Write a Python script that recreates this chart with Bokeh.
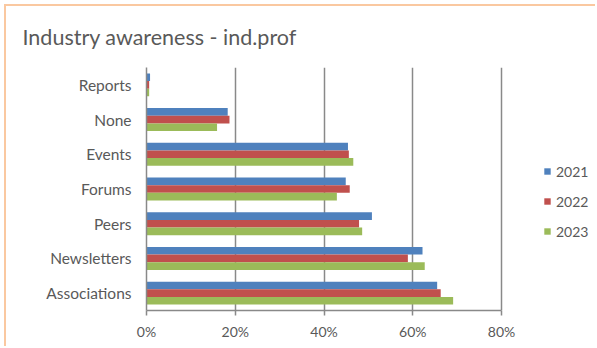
from bokeh.plotting import figure
from bokeh.models import (ColumnDataSource, FactorRange, Range1d, Legend, LegendItem,
                          PrintfTickFormatter, FixedTicker)
from bokeh.transform import dodge
from bokeh.embed import file_html
from bokeh.resources import INLINE

categories = ["Reports", "None", "Events", "Forums", "Peers", "Newsletters", "Associations"]
series_names = ["2021", "2022", "2023"]
v2021 = [0.8, 18.3, 45.4, 44.9, 50.8, 62.2, 65.5]
v2022 = [0.6, 18.7, 45.6, 45.8, 47.9, 58.9, 66.3]
v2023 = [0.6, 15.9, 46.6, 42.9, 48.6, 62.7, 69.1]
x_ticks = [0, 20, 40, 60, 80]

colors = ["#4F81BD", "#C0504D", "#9BBB59"]
txt = "#595959"
grid = "#898989"
FONT = "Lato"

source = ColumnDataSource(data=dict(cat=categories, v2021=v2021, v2022=v2022, v2023=v2023))

W, H = 591, 342
left_px, right_px = 140, 495          # frame span for the 0..80 axis
x_end = x_ticks[-1] * (W - left_px) / (right_px - left_px)

p = figure(width=W, height=H, output_backend="svg", toolbar_location=None,
           y_range=FactorRange(factors=list(reversed(categories))),
           x_range=Range1d(0, x_end),
           min_border_left=left_px, min_border_right=0, min_border_top=61, min_border_bottom=38)
p.styles = {"margin-left": "4px", "margin-top": "4px",
            "border-left": "2px solid #FAC8A0", "border-top": "2px solid #FAC8A0"}

p.title.text = "Industry awareness - ind.prof"
p.title.text_font = FONT
p.title.text_font_size = "21.5px"
p.title.text_font_style = "normal"
p.title.text_color = txt
p.title.align = "left"
p.title.offset = -124
p.title.vertical_align = "top"
p.title.standoff = 32

bh = 0.22
offsets = [bh, 0.0, -bh]
fields = ["v2021", "v2022", "v2023"]
renderers = []
for f, off, c in zip(fields, offsets, colors):
    r = p.hbar(y=dodge("cat", off, range=p.y_range), right=f, left=0, height=bh,
               source=source, fill_color=c, line_color=None)
    renderers.append(r)

p.xaxis.ticker = FixedTicker(ticks=x_ticks)
p.xaxis.formatter = PrintfTickFormatter(format="%d%%")
p.xaxis.bounds = (x_ticks[0], x_ticks[-1])
p.xgrid.ticker = FixedTicker(ticks=x_ticks)
p.xgrid.grid_line_color = grid
p.xgrid.grid_line_width = 1.5
p.ygrid.grid_line_color = None

for ax in (p.xaxis[0], p.yaxis[0]):
    ax.axis_line_color = grid
    ax.axis_line_width = 1.5
    ax.major_label_text_font = FONT
    ax.major_label_text_color = txt
    ax.minor_tick_line_color = None

p.xaxis.major_label_text_font_size = "14px"
p.yaxis.major_label_text_font_size = "15.5px"
p.xaxis.major_tick_line_color = grid
p.xaxis.major_tick_line_width = 1.5
p.xaxis.major_tick_in = 0
p.xaxis.major_tick_out = 5
p.xaxis.major_label_standoff = 7
p.yaxis.major_tick_line_color = None
p.yaxis.major_label_standoff = 9

p.outline_line_color = None
p.background_fill_color = "white"
p.border_fill_color = "white"

legend = Legend(items=[LegendItem(label=n, renderers=[r]) for n, r in zip(series_names, renderers)],
                location=(397, 69), orientation="vertical",
                glyph_width=8, glyph_height=8, label_standoff=5, spacing=10,
                padding=0, margin=0, border_line_color=None, background_fill_alpha=0,
                label_text_font=FONT, label_text_font_size="14px", label_text_color=txt,
                label_height=20)
p.add_layout(legend, "center")

open("out.html", "w").write(file_html(p, INLINE))
